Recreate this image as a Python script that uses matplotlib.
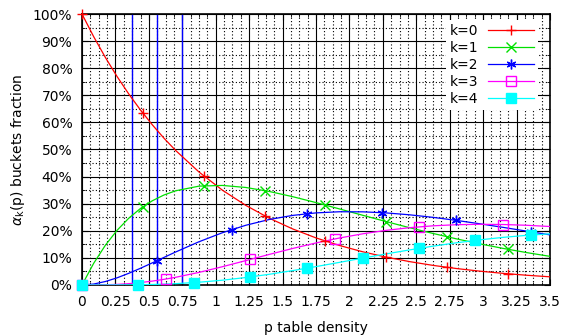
import numpy as np
import matplotlib
matplotlib.use("Agg")
import matplotlib.pyplot as plt
from matplotlib.ticker import MultipleLocator, FuncFormatter

# curve samples (p from 0 to 3.5)
p = [0, 0.0875, 0.175, 0.2625, 0.35, 0.4375, 0.525, 0.6125, 0.7, 0.875,
     1.05, 1.225, 1.4, 1.575, 1.75, 1.925, 2.1, 2.275, 2.45, 2.625, 2.8,
     2.975, 3.15, 3.325, 3.5]
k0 = [1.0, 0.9162, 0.8395, 0.7691, 0.7047, 0.6457, 0.5916, 0.5420, 0.4966,
      0.4169, 0.3499, 0.2938, 0.2466, 0.2070, 0.1738, 0.1459, 0.1225, 0.1028,
      0.0863, 0.0724, 0.0608, 0.0511, 0.0429, 0.0360, 0.0302]
k1 = [0.0, 0.0802, 0.1469, 0.2019, 0.2466, 0.2825, 0.3106, 0.3320, 0.3476,
      0.3648, 0.3674, 0.3599, 0.3452, 0.3260, 0.3041, 0.2808, 0.2572, 0.2339,
      0.2114, 0.1902, 0.1703, 0.1519, 0.1350, 0.1196, 0.1057]
k2 = [0.0, 0.0035, 0.0129, 0.0265, 0.0432, 0.0618, 0.0815, 0.1017, 0.1217,
      0.1596, 0.1929, 0.2204, 0.2417, 0.2568, 0.2661, 0.2703, 0.2700, 0.2660,
      0.2590, 0.2496, 0.2384, 0.2259, 0.2126, 0.1988, 0.1850]
k3 = [0.0, 0.0001, 0.0008, 0.0023, 0.0050, 0.0090, 0.0143, 0.0208, 0.0284,
      0.0465, 0.0675, 0.0900, 0.1128, 0.1348, 0.1552, 0.1734, 0.1890, 0.2017,
      0.2115, 0.2184, 0.2225, 0.2240, 0.2232, 0.2204, 0.2158]
k4 = [0.0, 0.0000, 0.0000, 0.0002, 0.0004, 0.0010, 0.0019, 0.0032, 0.0050,
      0.0102, 0.0177, 0.0276, 0.0395, 0.0531, 0.0679, 0.0835, 0.0992, 0.1147,
      0.1295, 0.1433, 0.1557, 0.1666, 0.1758, 0.1832, 0.1888]

# marker positions
m0_x = [0, 0.455, 0.91, 1.365, 1.82, 2.275, 2.73, 3.185]
m0_y = [1.0, 0.6345, 0.4025, 0.2554, 0.1620, 0.1028, 0.0652, 0.0414]
m1_x = m0_x
m1_y = [0.0, 0.2887, 0.3663, 0.3486, 0.2949, 0.2339, 0.1780, 0.1318]
m2_x = [0, 0.56, 1.12, 1.68, 2.24, 2.80, 3.36]
m2_y = [0.0, 0.0896, 0.2046, 0.2630, 0.2671, 0.2384, 0.1961]
m3_x = [0, 0.63, 1.26, 1.89, 2.52, 3.15]
m3_y = [0.0, 0.0222, 0.0946, 0.1700, 0.2146, 0.2232]
m4_x = [0, 0.42, 0.84, 1.26, 1.68, 2.10, 2.52, 2.94, 3.36]
m4_y = [0.0, 0.0009, 0.0090, 0.0298, 0.0619, 0.0992, 0.1352, 0.1646, 0.1845]

thresholds = [0.375, 0.5625, 0.75]

plt.rcParams['font.family'] = ['DejaVu Sans']
plt.rcParams['mathtext.fontset'] = 'dejavusans'

fig = plt.figure(figsize=(5.72, 3.36), dpi=100)
ax = fig.add_axes([82/572, 51/336, 468/572, 271/336])

ax.set_xlim(0, 3.5)
ax.set_ylim(0, 1)
ax.xaxis.set_major_locator(MultipleLocator(0.25))
ax.xaxis.set_minor_locator(MultipleLocator(0.0625))
ax.yaxis.set_major_locator(MultipleLocator(0.1))
ax.yaxis.set_minor_locator(MultipleLocator(0.05))
ax.xaxis.set_major_formatter(FuncFormatter(lambda v, _: f"{v:g}"))
ax.yaxis.set_major_formatter(FuncFormatter(lambda v, _: f"{v*100:.0f}%"))

ax.grid(which='major', color='black', lw=0.8, ls='-')
ax.grid(which='minor', color='black', lw=0.8, ls=(0, (1, 2)))
ax.set_axisbelow(True)
ax.tick_params(which='both', direction='in', top=True, right=True,
               labelsize=10, pad=7)
ax.tick_params(which='major', length=4)
ax.tick_params(which='minor', length=2)
for s in ax.spines.values():
    s.set_linewidth(1.2)

for t in thresholds:
    ax.axvline(t, color='blue', lw=1, zorder=1.5)

series = [
    (k0, m0_x, m0_y, 'red', '+', 'k=0', 'none'),
    (k1, m1_x, m1_y, '#00e000', 'x', 'k=1', 'none'),
    (k2, m2_x, m2_y, 'blue', (6, 2, 0), 'k=2', 'none'),
    (k3, m3_x, m3_y, 'magenta', 's', 'k=3', 'none'),
    (k4, m4_x, m4_y, 'cyan', 's', 'k=4', 'cyan'),
]
handles = []
for ys, mx, my, c, mk, lab, fc in series:
    ax.plot(p, ys, color=c, lw=0.9, zorder=3)
    ax.plot(mx, my, ls='none', marker=mk, ms=7, mec=c, mfc=fc, mew=1,
            zorder=4, clip_on=False)
    h, = ax.plot([], [], color=c, lw=0.9, marker=mk, ms=7, mec=c, mfc=fc,
                 mew=1, label=lab)
    handles.append(h)

leg = ax.legend(handles=handles, loc='upper right', bbox_to_anchor=(0.987, 1.0),
                markerfirst=False, numpoints=1, fontsize=10, handlelength=3.3,
                handletextpad=0.7, labelspacing=0.22, borderpad=0.3,
                borderaxespad=0.4, fancybox=False, framealpha=1,
                facecolor='white', edgecolor='none')
leg.set_zorder(5)

ax.set_xlabel('p table density', fontsize=10, labelpad=9)
ax.set_ylabel(r'$\alpha_{\mathrm{k}}$(p) buckets fraction', fontsize=10)

fig.savefig('out.png', dpi=100)
